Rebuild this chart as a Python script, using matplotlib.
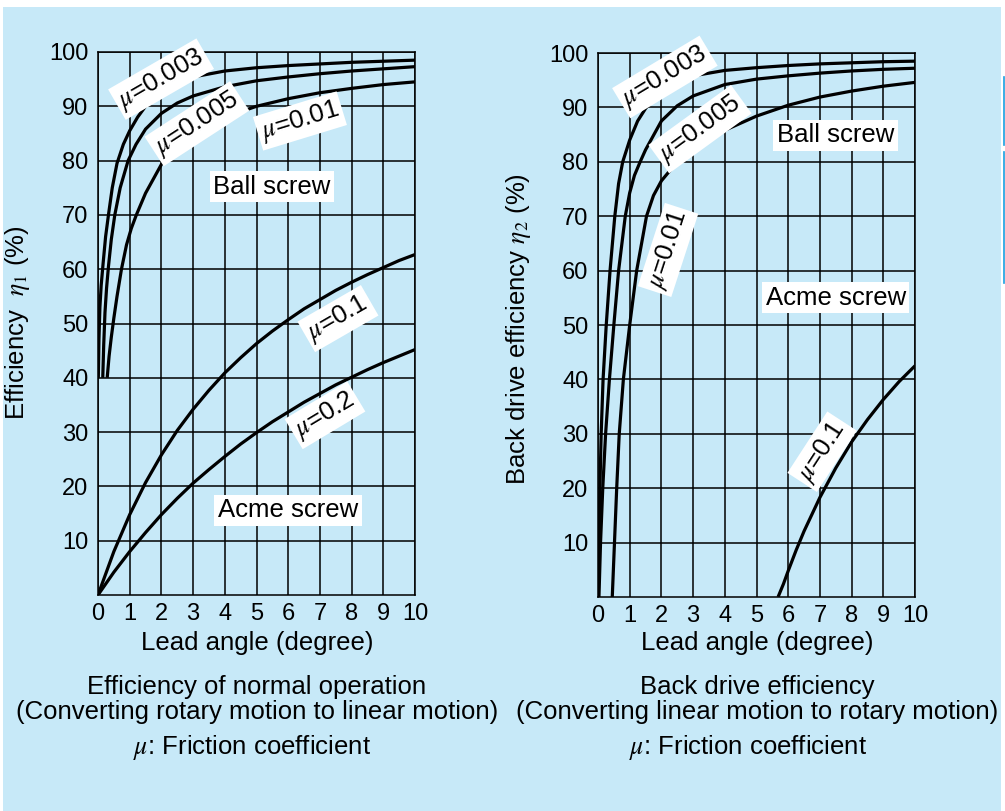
import matplotlib
matplotlib.use("Agg")
import matplotlib.pyplot as plt
from matplotlib.lines import Line2D
from matplotlib.patches import Rectangle

# ---------------- data ----------------
lead_ticks = [0, 1, 2, 3, 4, 5, 6, 7, 8, 9, 10]
eff_ticks = [10, 20, 30, 40, 50, 60, 70, 80, 90, 100]

# Normal operation, ball screw
n003_x = [0.01, 0.03, 0.06, 0.1, 0.16, 0.24, 0.33, 0.45, 0.6, 0.8, 1.0, 1.25, 1.5, 2.0, 2.5, 3, 4, 5, 6, 7, 8, 9, 10]
n003_y = [40, 47, 53, 57, 61, 66, 70, 75, 79.5, 83, 85.5, 88, 90, 92.8, 94.4, 95.4, 96.5, 97.1, 97.5, 97.8, 98.1, 98.3, 98.5]
n005_x = [0.15, 0.18, 0.22, 0.27, 0.33, 0.42, 0.53, 0.7, 0.95, 1.2, 1.5, 2.0, 2.5, 3, 4, 5, 6, 7, 8, 9, 10]
n005_y = [40, 46, 52, 56.5, 60.5, 65.5, 70, 75, 80, 83, 85.8, 88.7, 90.6, 91.9, 93.6, 94.7, 95.4, 96.0, 96.5, 96.9, 97.3]
n01_x = [0.29, 0.35, 0.42, 0.5, 0.6, 0.74, 0.9, 1.05, 1.21, 1.5, 2.0, 2.5, 3, 4, 5, 6, 7, 8, 9, 10]
n01_y = [40, 44, 47.5, 51, 55, 60, 64.5, 67.5, 70, 74, 79.3, 82.5, 85, 88, 90, 91.4, 92.5, 93.3, 94, 94.5]

# Normal operation, acme screw
acme_x = [0, 0.5, 1, 1.5, 2, 2.5, 3, 3.5, 4, 4.5, 5, 5.5, 6, 6.5, 7, 7.5, 8, 8.5, 9, 9.5, 10]
n1_y = [0, 8.0, 14.8, 20.7, 25.8, 30.3, 34.2, 37.7, 40.9, 43.7, 46.3, 48.6, 50.7, 52.7, 54.4, 56.1, 57.6, 59.0, 60.3, 61.6, 62.7]
n2_y = [0, 4.2, 8.0, 11.5, 14.8, 17.8, 20.6, 23.1, 25.5, 27.8, 29.9, 31.9, 33.7, 35.5, 37.1, 38.7, 40.1, 41.5, 42.8, 44.0, 45.2]

# Back drive, ball screw
b003_x = [0.01, 0.03, 0.06, 0.1, 0.16, 0.26, 0.38, 0.53, 0.65, 0.78, 1.0, 1.25, 1.5, 2, 2.5, 3, 4, 5, 6, 7, 8, 9, 10]
b003_y = [0, 10, 20, 30, 40, 50, 60, 70, 76, 80, 84, 87.5, 89.8, 93.2, 94.9, 95.8, 96.8, 97.3, 97.7, 98.0, 98.2, 98.4, 98.5]
b005_x = [0.03, 0.08, 0.15, 0.24, 0.36, 0.5, 0.65, 0.86, 1.0, 1.15, 1.33, 1.5, 2, 2.5, 3, 4, 5, 6, 7, 8, 9, 10]
b005_y = [0, 10, 20, 30, 40, 50, 60, 70, 74.3, 77.5, 80, 82.2, 87.5, 90.3, 92.1, 94.2, 95.2, 95.8, 96.3, 96.7, 97.0, 97.2]
b01_x = [0.45, 0.52, 0.59, 0.67, 0.8, 1.0, 1.22, 1.53, 1.75, 2.0, 2.5, 3, 3.5, 4, 5, 6, 7, 8, 9, 10]
b01_y = [0, 10, 20, 30, 40, 50, 60, 70, 73.8, 76.5, 80, 82.3, 84.2, 85.8, 88.4, 90.4, 91.9, 93.0, 93.9, 94.6]

# Back drive, acme screw
b1_x = [5.68, 5.85, 6.0, 6.25, 6.5, 7.0, 7.5, 8.0, 8.5, 9.0, 9.5, 10]
b1_y = [0, 2.4, 4.8, 8.6, 12.1, 18.3, 23.7, 28.5, 32.6, 36.3, 39.6, 42.5]

# ---------------- styling ----------------
W, H = 1005, 811
BG = "#c7e9f8"
plt.rcParams["font.family"] = ["Liberation Sans", "DejaVu Sans"]
plt.rcParams["mathtext.fontset"] = "stix"
FS_TICK = 17
FS = 18.5

fig = plt.figure(figsize=(W / 100, H / 100), dpi=100)
fig.patch.set_facecolor("white")
fig.add_artist(Rectangle((3 / W, 0), 998 / W, 1 - 7 / H, transform=fig.transFigure,
                         facecolor=BG, edgecolor="none", zorder=-10))
for y0, y1 in [(77, 145), (152, 283)]:
    fig.add_artist(Line2D([1004 / W, 1004 / W], [1 - y0 / H, 1 - y1 / H],
                          transform=fig.transFigure, color="#1a9fe0", lw=1.2))


def px(x, y):
    return x / W, 1 - y / H


def make_axes(left_px, right_px, top_px, bottom_px):
    ax = fig.add_axes([left_px / W, 1 - bottom_px / H, (right_px - left_px) / W,
                       (bottom_px - top_px) / H])
    ax.set_facecolor(BG)
    ax.set_xlim(0, 10)
    ax.set_ylim(0, 100)
    ax.set_xticks(lead_ticks)
    ax.set_yticks(eff_ticks)
    ax.set_xticklabels([str(t) for t in lead_ticks])
    ax.set_yticklabels([str(t) for t in eff_ticks])
    ax.tick_params(length=0, labelsize=FS_TICK, pad=6, colors="black")
    ax.tick_params(axis="y", pad=7)
    ax.grid(True, color="black", lw=1.1, zorder=1)
    for s in ax.spines.values():
        s.set_color("black")
        s.set_linewidth(1.1)
    ax.set_axisbelow(True)
    return ax


CURVE = dict(color="black", lw=2.3, solid_capstyle="butt", zorder=3, clip_on=True)
BOX = dict(facecolor="white", edgecolor="none", pad=2.5)


def lab(ax, x, y, s, rot=0):
    ax.text(x, y, s, fontsize=FS, rotation=rot,
            ha="center", va="center", bbox=BOX, zorder=5)


# ---- left panel ----
ax1 = make_axes(98, 415, 52, 595)
ax1.plot(n003_x, n003_y, **CURVE)
ax1.plot(n005_x, n005_y, **CURVE)
ax1.plot(n01_x, n01_y, **CURVE)
ax1.plot(acme_x, n1_y, **CURVE)
ax1.plot(acme_x, n2_y, **CURVE)
lab(ax1, 1.99, 95.0, r"$\mu$=0.003", 30)
lab(ax1, 3.12, 86.8, r"$\mu$=0.005", 33)
lab(ax1, 6.37, 87.3, r"$\mu$=0.01", 17)
lab(ax1, 5.49, 75.2, "Ball screw")
lab(ax1, 7.57, 50.9, r"$\mu$=0.1", 30)
lab(ax1, 7.16, 33.1, r"$\mu$=0.2", 31)
lab(ax1, 5.99, 15.6, "Acme screw")

# ---- right panel ----
ax2 = make_axes(598, 915, 53, 597)
ax2.plot(b003_x, b003_y, **CURVE)
ax2.plot(b005_x, b005_y, **CURVE)
ax2.plot(b01_x, b01_y, **CURVE)
ax2.plot(b1_x, b1_y, **CURVE)
lab(ax2, 2.11, 95.6, r"$\mu$=0.003", 31)
lab(ax2, 3.22, 86.0, r"$\mu$=0.005", 36)
lab(ax2, 2.21, 63.8, r"$\mu$=0.01", 72)
lab(ax2, 7.5, 84.9, "Ball screw")
lab(ax2, 7.5, 55.0, "Acme screw")
lab(ax2, 7.07, 26.7, r"$\mu$=0.1", 57)

# ---- y labels ----
fig.text(*px(18, 323), r"Efficiency  $\eta_1$ (%)", rotation=90, fontsize=FS,
         ha="center", va="center")
fig.text(*px(518, 329), r"Back drive efficiency $\eta_2$ (%)", rotation=90, fontsize=FS,
         ha="center", va="center")

# ---- captions ----
for cx, lines in [(257, ["Lead angle (degree)", "Efficiency of normal operation",
                          "(Converting rotary motion to linear motion)"]),
                  (757, ["Lead angle (degree)", "Back drive efficiency",
                          "(Converting linear motion to rotary motion)"])]:
    for cy, s in zip([643, 687, 712], lines):
        fig.text(*px(cx, cy), s, fontsize=FS, ha="center", va="center")
fig.text(*px(252, 748), r"$\mu$: Friction coefficient", fontsize=FS, ha="center", va="center")
fig.text(*px(748, 748), r"$\mu$: Friction coefficient", fontsize=FS, ha="center", va="center")

fig.savefig("out.png", dpi=100, facecolor=fig.get_facecolor())
